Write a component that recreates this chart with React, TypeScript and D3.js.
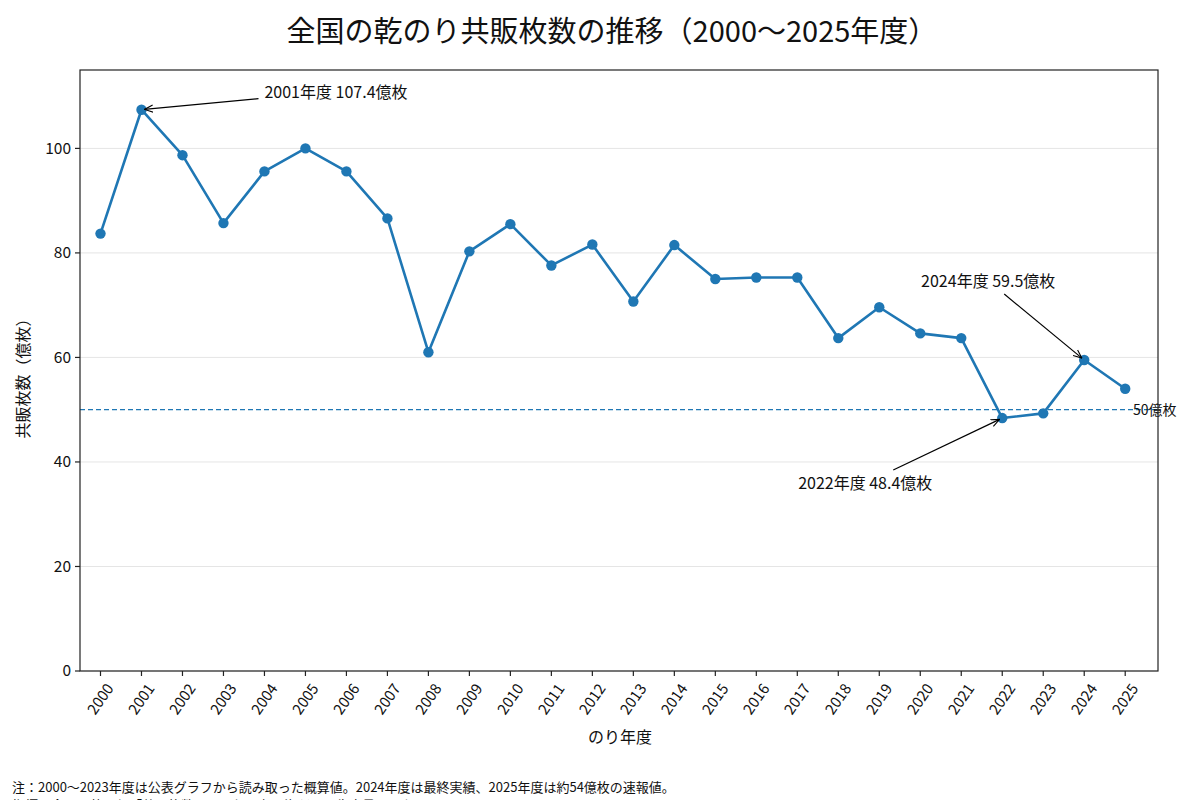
import * as d3 from "d3";

// のり年度と共販枚数（億枚）
const years = [
  2000, 2001, 2002, 2003, 2004, 2005, 2006, 2007, 2008, 2009, 2010, 2011, 2012,
  2013, 2014, 2015, 2016, 2017, 2018, 2019, 2020, 2021, 2022, 2023, 2024, 2025,
];
const sales = [
  83.7, 107.4, 98.7, 85.7, 95.6, 100.0, 95.6, 86.6, 61.0, 80.3, 85.5, 77.6, 81.6,
  70.7, 81.5, 75.0, 75.3, 75.3, 63.7, 69.6, 64.6, 63.7, 48.4, 49.3, 59.5, 54.0,
];
const yTicks = [0, 20, 40, 60, 80, 100];
const refValue = 50;
const refLabel = "50億枚";

const annoYears = [2001, 2024, 2022];
const annoLabels = ["2001年度 107.4億枚", "2024年度 59.5億枚", "2022年度 48.4億枚"];

const title = "全国の乾のり共販枚数の推移（2000〜2025年度）";
const xLabel = "のり年度";
const yLabel = "共販枚数（億枚）";
const notes = [
  "注：2000〜2023年度は公表グラフから読み取った概算値。2024年度は最終実績、2025年度は約54億枚の速報値。",
  "指標は全国の乾のり「共販枚数」であり、有明海だけの生産量ではない。",
];

// 注記テキストの配置（点からのピクセルオフセット）
const annoLayout = [
  { tx: 123, ty: -18, anchor: "start", ax: 117, ay: -11 },
  { tx: -96, ty: -79, anchor: "middle", ax: -80, ay: -66 },
  { tx: -137, ty: 65, anchor: "middle", ax: -109, ay: 52 },
];

const W = 1200;
const H = 800;
const margin = { top: 70, right: 42, bottom: 129, left: 80 };
const FONT = "'Noto Sans CJK JP', 'Noto Sans', sans-serif";
const BLUE = "#1f77b4";

export default function App() {
  const iw = W - margin.left - margin.right;
  const ih = H - margin.top - margin.bottom;

  const x = d3.scaleLinear().domain([1999.5, 2025.8]).range([0, iw]);
  const y = d3.scaleLinear().domain([0, 115]).range([ih, 0]);

  const line = d3
    .line<number>()
    .x((_d, i) => x(years[i]))
    .y((d) => y(d));

  return (
    <svg
      width={W}
      height={H}
      style={{ position: "absolute", left: 0, top: 0, background: "#fff" }}
      fontFamily={FONT}
    >
      <defs>
        <marker
          id="arrowhead"
          viewBox="0 0 10 10"
          refX="9.5"
          refY="5"
          markerWidth="9"
          markerHeight="9"
          markerUnits="userSpaceOnUse"
          orient="auto"
        >
          <path d="M0,1 L9.5,5 L0,9" fill="none" stroke="#000" strokeWidth="1.2" />
        </marker>
        <clipPath id="plot-clip">
          <rect width={iw} height={ih} />
        </clipPath>
      </defs>

      <text x={612} y={42} textAnchor="middle" fontSize={29} fill="#111">
        {title}
      </text>

      <g transform={`translate(${margin.left},${margin.top})`}>
        {/* グリッド */}
        {yTicks.map((t) => (
          <line key={t} x1={0} x2={iw} y1={y(t)} y2={y(t)} stroke="#e5e5e5" strokeWidth={1} />
        ))}

        {/* 50億枚ライン */}
        <line
          x1={0}
          x2={iw}
          y1={y(refValue)}
          y2={y(refValue)}
          stroke={BLUE}
          strokeWidth={1.2}
          strokeDasharray="5,3"
        />

        <g clipPath="url(#plot-clip)">
          <path d={line(sales) ?? ""} fill="none" stroke={BLUE} strokeWidth={2.6} strokeLinejoin="round" />
          {sales.map((v, i) => (
            <circle key={years[i]} cx={x(years[i])} cy={y(v)} r={5.2} fill={BLUE} />
          ))}
        </g>

        <text x={iw - 25} y={y(refValue) + 5} fontSize={14} fill="#111">
          {refLabel}
        </text>

        {/* 注記 */}
        {annoYears.map((yr, k) => {
          const i = years.indexOf(yr);
          const px = x(yr);
          const py = y(sales[i]);
          const l = annoLayout[k];
          const sx = px + l.ax;
          const sy = py + l.ay;
          const dx = px - sx;
          const dy = py - sy;
          const len = Math.hypot(dx, dy);
          const ex = px - (dx / len) * 3;
          const ey = py - (dy / len) * 3;
          return (
            <g key={yr}>
              <line x1={sx} y1={sy} x2={ex} y2={ey} stroke="#000" strokeWidth={1.2} markerEnd="url(#arrowhead)" />
              <text x={px + l.tx} y={py + l.ty + 6} textAnchor={l.anchor} fontSize={16} fill="#111">
                {annoLabels[k]}
              </text>
            </g>
          );
        })}

        {/* 枠 */}
        <rect width={iw} height={ih} fill="none" stroke="#222" strokeWidth={1.2} />

        {/* Y軸 */}
        {yTicks.map((t) => (
          <g key={t} transform={`translate(0,${y(t)})`}>
            <line x1={-5} x2={0} stroke="#222" strokeWidth={1.2} />
            <text x={-9} dy="0.35em" textAnchor="end" fontSize={15.5} fill="#111">
              {t}
            </text>
          </g>
        ))}

        {/* X軸 */}
        {years.map((yr) => (
          <g key={yr} transform={`translate(${x(yr)},${ih})`}>
            <line y1={0} y2={5} stroke="#222" strokeWidth={1.2} />
            <text
              transform="translate(0,28) rotate(-55)"
              textAnchor="middle"
              dy="0.35em"
              fontSize={15}
              fill="#111"
            >
              {yr}
            </text>
          </g>
        ))}

        <text x={iw / 2 + 1} y={ih + 72} textAnchor="middle" fontSize={16} fill="#111">
          {xLabel}
        </text>
        <text
          transform={`translate(${-51},${ih / 2 + 4}) rotate(-90)`}
          textAnchor="middle"
          fontSize={16}
          fill="#111"
        >
          {yLabel}
        </text>
      </g>

      {notes.map((n, i) => (
        <text key={i} x={12} y={792 + i * 18} fontSize={13} fill="#111">
          {n}
        </text>
      ))}
    </svg>
  );
}
